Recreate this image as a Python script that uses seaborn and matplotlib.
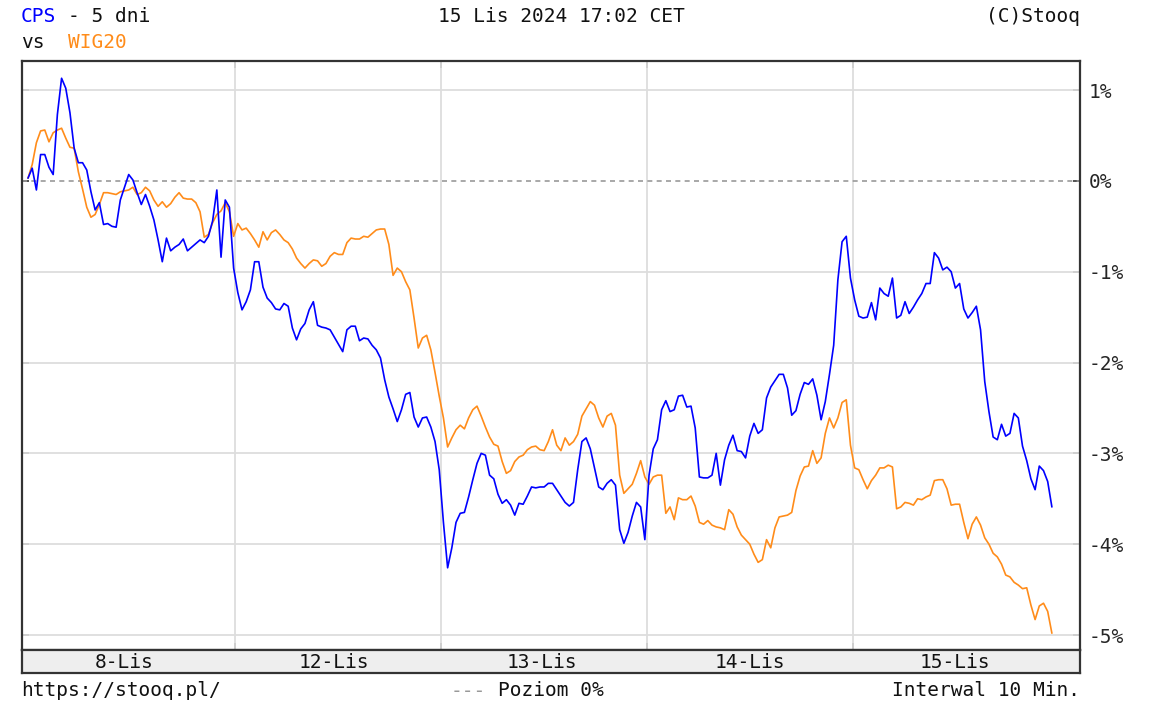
import matplotlib
matplotlib.use("Agg")
import matplotlib.pyplot as plt
import numpy as np
import pandas as pd
import seaborn as sns

# CPS vs WIG20, % change, 10 min bars over 5 sessions
cps = [0.03, 0.14, -0.10, 0.29, 0.29, 0.15, 0.07, 0.73, 1.13, 1.02,
       0.75, 0.36, 0.20, 0.20, 0.12, -0.12, -0.32, -0.24, -0.48, -0.47,
       -0.50, -0.51, -0.21, -0.07, 0.07, 0.01, -0.13, -0.26, -0.15, -0.28,
       -0.43, -0.65, -0.89, -0.63, -0.77, -0.73, -0.70, -0.64, -0.77, -0.73,
       -0.69, -0.65, -0.68, -0.61, -0.44, -0.10, -0.84, -0.21, -0.29, -0.96,
       -1.23, -1.42, -1.33, -1.20, -0.89, -0.89, -1.17, -1.29, -1.34, -1.41,
       -1.42, -1.35, -1.38, -1.62, -1.75, -1.63, -1.57, -1.42, -1.33, -1.59,
       -1.61, -1.62, -1.64, -1.72, -1.80, -1.88, -1.64, -1.60, -1.60, -1.76,
       -1.73, -1.74, -1.81, -1.86, -1.95, -2.19, -2.38, -2.51, -2.65, -2.52,
       -2.35, -2.33, -2.60, -2.71, -2.61, -2.60, -2.71, -2.87, -3.18, -3.76,
       -4.26, -4.04, -3.76, -3.66, -3.65, -3.48, -3.29, -3.11, -3.00, -3.02,
       -3.24, -3.28, -3.45, -3.55, -3.51, -3.57, -3.68, -3.55, -3.56, -3.47,
       -3.37, -3.38, -3.37, -3.37, -3.33, -3.33, -3.40, -3.47, -3.54, -3.58,
       -3.54, -3.18, -2.87, -2.83, -2.95, -3.16, -3.37, -3.40, -3.33, -3.29,
       -3.35, -3.84, -3.99, -3.87, -3.69, -3.54, -3.59, -3.95, -3.24, -2.95,
       -2.85, -2.52, -2.42, -2.54, -2.52, -2.37, -2.36, -2.49, -2.48, -2.72,
       -3.26, -3.27, -3.27, -3.24, -3.00, -3.35, -3.07, -2.91, -2.80, -2.97,
       -2.98, -3.05, -2.81, -2.67, -2.78, -2.74, -2.39, -2.27, -2.20, -2.13,
       -2.13, -2.28, -2.58, -2.53, -2.35, -2.22, -2.24, -2.18, -2.36, -2.63,
       -2.43, -2.13, -1.81, -1.09, -0.67, -0.61, -1.07, -1.31, -1.49, -1.51,
       -1.50, -1.34, -1.53, -1.18, -1.24, -1.27, -1.07, -1.51, -1.48, -1.33,
       -1.46, -1.39, -1.31, -1.24, -1.13, -1.13, -0.79, -0.85, -0.98, -0.95,
       -1.00, -1.18, -1.13, -1.41, -1.51, -1.45, -1.38, -1.64, -2.21, -2.54,
       -2.82, -2.85, -2.68, -2.81, -2.78, -2.56, -2.61, -2.92, -3.08, -3.28,
       -3.40, -3.14, -3.19, -3.31, -3.59]

wig20 = [0.03, 0.18, 0.42, 0.55, 0.56, 0.43, 0.53, 0.56, 0.58, 0.47,
         0.37, 0.36, 0.10, -0.09, -0.29, -0.40, -0.37, -0.26, -0.13, -0.13,
         -0.14, -0.15, -0.12, -0.11, -0.10, -0.07, -0.15, -0.13, -0.07, -0.11,
         -0.21, -0.28, -0.23, -0.29, -0.25, -0.18, -0.13, -0.19, -0.20, -0.20,
         -0.24, -0.34, -0.62, -0.59, -0.46, -0.37, -0.33, -0.24, -0.34, -0.61,
         -0.47, -0.54, -0.52, -0.58, -0.65, -0.73, -0.56, -0.65, -0.57, -0.54,
         -0.59, -0.65, -0.68, -0.75, -0.85, -0.91, -0.96, -0.91, -0.87, -0.88,
         -0.94, -0.91, -0.83, -0.79, -0.81, -0.81, -0.68, -0.63, -0.64, -0.64,
         -0.61, -0.62, -0.58, -0.54, -0.53, -0.53, -0.70, -1.04, -0.96, -1.00,
         -1.11, -1.20, -1.51, -1.84, -1.73, -1.70, -1.86, -2.11, -2.37, -2.61,
         -2.93, -2.83, -2.74, -2.69, -2.73, -2.61, -2.52, -2.48, -2.59, -2.71,
         -2.82, -2.90, -2.92, -3.09, -3.22, -3.19, -3.09, -3.04, -3.02, -2.96,
         -2.93, -2.92, -2.96, -2.97, -2.87, -2.74, -2.91, -2.97, -2.83, -2.91,
         -2.87, -2.79, -2.59, -2.51, -2.43, -2.47, -2.61, -2.71, -2.59, -2.56,
         -2.69, -3.24, -3.44, -3.39, -3.34, -3.22, -3.08, -3.26, -3.34, -3.26,
         -3.24, -3.24, -3.66, -3.59, -3.73, -3.49, -3.51, -3.51, -3.47, -3.58,
         -3.76, -3.78, -3.74, -3.79, -3.81, -3.82, -3.84, -3.62, -3.67, -3.81,
         -3.90, -3.95, -4.00, -4.11, -4.20, -4.17, -3.95, -4.04, -3.82, -3.70,
         -3.69, -3.68, -3.65, -3.41, -3.25, -3.15, -3.14, -2.97, -3.11, -3.05,
         -2.78, -2.61, -2.72, -2.61, -2.44, -2.41, -2.91, -3.16, -3.18, -3.29,
         -3.39, -3.30, -3.24, -3.16, -3.16, -3.13, -3.15, -3.61, -3.59, -3.54,
         -3.55, -3.57, -3.50, -3.51, -3.48, -3.46, -3.30, -3.29, -3.29, -3.39,
         -3.57, -3.56, -3.56, -3.76, -3.94, -3.78, -3.70, -3.79, -3.93, -4.00,
         -4.10, -4.14, -4.22, -4.34, -4.36, -4.42, -4.45, -4.49, -4.48, -4.67,
         -4.83, -4.68, -4.65, -4.74, -4.98]

day_labels = ["8-Lis", "12-Lis", "13-Lis", "14-Lis", "15-Lis"]
day_label_pos = [23, 73, 122.5, 172, 221]
day_breaks = [49.3, 98.4, 147.5, 196.6]
y_ticks = [1, 0, -1, -2, -3, -4, -5]

BLUE = "#0000ff"
ORANGE = "#ff8c1a"
FRAME = "#333333"
GRID = "#dddddd"
INK = "#111111"

sns.set_style("white")
plt.rcParams["font.family"] = ["DejaVu Sans Mono", "DejaVu Sans"]
plt.rcParams["font.size"] = 14

df = pd.DataFrame({"t": np.arange(len(cps)), "CPS": cps, "WIG20": wig20})

W, H = 1150, 706
CH = 11.7  # width of one monospace character in px
fig = plt.figure(figsize=(W / 100, H / 100), dpi=100)
ax = fig.add_axes([22 / W, 1 - 650 / H, 1058 / W, 589 / H])
band = fig.add_axes([22 / W, 1 - 673 / H, 1058 / W, 23 / H])

xlim = (-1.43, 250.7)
ax.set_xlim(*xlim)
ax.set_ylim(-5.165, 1.32)

# grid
for v in y_ticks:
    if v != 0:
        ax.axhline(v, color=GRID, lw=1.3, zorder=1)
for b in day_breaks:
    ax.axvline(b, color=GRID, lw=1.3, zorder=1)
ax.axhline(0, color="#999999", lw=1.2, ls=(0, (3, 2.6)), zorder=1)

sns.lineplot(data=df, x="t", y="WIG20", color=ORANGE, lw=1.2, ax=ax, zorder=3)
sns.lineplot(data=df, x="t", y="CPS", color=BLUE, lw=1.2, ax=ax, zorder=4)

ax.set_xlabel("")
ax.set_ylabel("")
ax.set_xticks(day_breaks)
ax.set_xticklabels([])
ax.set_yticks(y_ticks)
ax.set_yticklabels([f"{v}%" for v in y_ticks])
ax.tick_params(axis="x", direction="in", length=5, width=1.2, color=FRAME,
               top=True, bottom=True)
ax.tick_params(axis="y", direction="in", length=5, width=1.2, color=FRAME,
               left=True, right=True, labelleft=False, labelright=True,
               pad=6, labelsize=14)
for s in ax.spines.values():
    s.set_color(FRAME)
    s.set_linewidth(1.6)

# date band
band.set_facecolor("#eeeeee")
band.set_xlim(*xlim)
band.set_ylim(0, 1)
band.set_xticks([])
band.set_yticks([])
for s in band.spines.values():
    s.set_color(FRAME)
    s.set_linewidth(1.6)
for lab, pos in zip(day_labels, day_label_pos):
    band.text(pos, 0.45, lab, ha="center", va="center", fontsize=14, color=INK)


# header / footer texts
def ftext(x, y, s, **kw):
    fig.text(x / W, 1 - y / H, s, va="center", fontsize=14, **kw)


ftext(21, 17, "CPS", color=BLUE)
ftext(21 + 4 * CH, 17, "- 5 dni", color=INK)
ftext(21, 43, "vs", color=INK)
ftext(21 + 4 * CH, 43, "WIG20", color=ORANGE)
ftext(561, 17, "15 Lis 2024 17:02 CET", ha="center", color=INK)
ftext(1080, 17, "(C)Stooq", ha="right", color=INK)
ftext(21, 691, "https://stooq.pl/", color=INK)
ftext(451, 691, "---", color="#999999")
ftext(451 + 4 * CH, 691, "Poziom 0%", color=INK)
ftext(1080, 691, "Interwal 10 Min.", ha="right", color=INK)

fig.savefig("out.png", dpi=100)
